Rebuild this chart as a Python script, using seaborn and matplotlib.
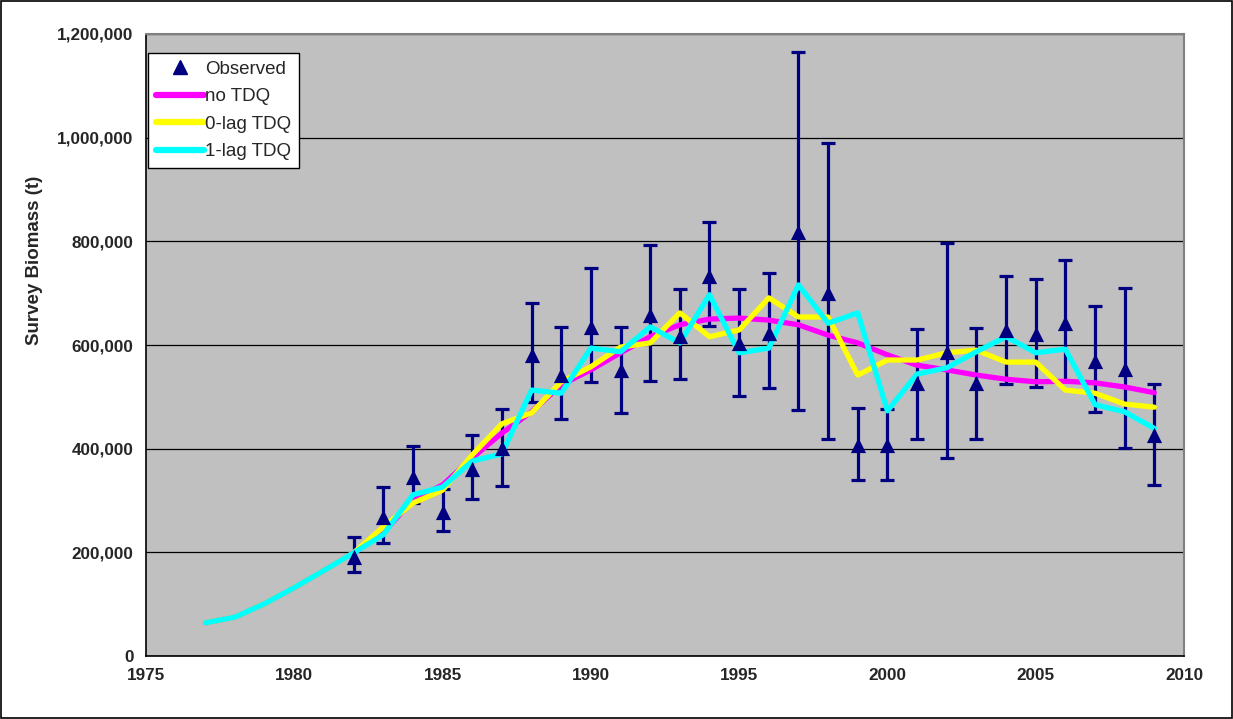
import numpy as np
import pandas as pd
import matplotlib
matplotlib.use("Agg")
import matplotlib.pyplot as plt
from matplotlib.lines import Line2D
from matplotlib.patches import Rectangle
from matplotlib.ticker import FuncFormatter, MultipleLocator
import seaborn as sns

# ---- data -----------------------------------------------------------------
model_years = list(range(1977, 2010))

no_tdq = [64, 75, 101, 132, 165, 199, 238, 301, 330, 382, 430, 471, 523, 552,
          585, 616, 639, 650, 652, 648, 639, 619, 604, 581, 561, 552, 542,
          534, 529, 530, 527, 519, 508]
lag0_tdq = [64, 75, 101, 132, 165, 199, 249, 295, 320, 388, 448, 469, 529, 558,
            596, 604, 662, 616, 629, 691, 654, 654, 542, 571, 571, 585, 590,
            567, 567, 513, 507, 486, 480]
lag1_tdq = [64, 75, 101, 132, 165, 199, 234, 311, 326, 376, 390, 513, 507, 594,
            587, 635, 604, 697, 585, 594, 716, 642, 662, 473, 544, 556, 587,
            616, 585, 592, 485, 471, 439]

obs_years = list(range(1982, 2010))
obs_mid = [191, 268, 345, 277, 360, 401, 581, 542, 635, 552, 658, 617, 734,
           604, 624, 818, 700, 407, 407, 526, 587, 526, 629, 621, 643, 569,
           554, 426]
obs_low = [162, 218, 295, 241, 303, 328, 490, 457, 529, 469, 531, 534, 636,
           502, 517, 475, 419, 340, 340, 419, 382, 419, 525, 519, 530, 470,
           401, 329]
obs_high = [230, 326, 405, 322, 427, 476, 681, 635, 748, 635, 793, 708, 837,
            709, 738, 1165, 990, 478, 476, 631, 797, 633, 733, 727, 764, 675,
            710, 525]

series_names = ["no TDQ", "0-lag TDQ", "1-lag TDQ"]
series_colors = ["#FF00FF", "#FFFF00", "#00FFFF"]
obs_label = "Observed"
navy = "#000080"

# values above are in thousands of tonnes
k = 1000.0
models = pd.DataFrame({
    "year": model_years * 3,
    "biomass": np.concatenate([no_tdq, lag0_tdq, lag1_tdq]) * k,
    "run": np.repeat(series_names, len(model_years)),
})
obs = pd.DataFrame({
    "year": obs_years,
    "biomass": np.array(obs_mid) * k,
    "low": np.array(obs_low) * k,
    "high": np.array(obs_high) * k,
})

# ---- style ----------------------------------------------------------------
sns.set_theme(style="white")
plt.rcParams["font.family"] = ["Liberation Sans", "DejaVu Sans"]

fig = plt.figure(figsize=(12.33, 7.19), dpi=100)
ax = fig.add_axes([146 / 1233, 1 - 656 / 719, 1038 / 1233, 622 / 719])
ax.set_facecolor("#C0C0C0")

# error bars sit beneath the model lines
ax.errorbar(obs["year"], obs["biomass"],
            yerr=[obs["biomass"] - obs["low"], obs["high"] - obs["biomass"]],
            fmt="none", ecolor=navy, elinewidth=2.3, capsize=5, capthick=2.3,
            zorder=2)

sns.lineplot(data=models, x="year", y="biomass", hue="run",
             hue_order=series_names, palette=series_colors, linewidth=3.8,
             ax=ax, legend=False, zorder=3, estimator=None, sort=False)

sns.scatterplot(data=obs, x="year", y="biomass", marker="^", s=120,
                color=navy, edgecolor=navy, linewidth=0, ax=ax, zorder=4,
                legend=False)

# ---- axes -----------------------------------------------------------------
ax.set_xlim(1975, 2010)
ax.set_ylim(0, 1200000)
ax.xaxis.set_major_locator(MultipleLocator(5))
ax.yaxis.set_major_locator(MultipleLocator(200000))
ax.yaxis.set_major_formatter(FuncFormatter(lambda v, p: f"{v:,.0f}"))
ax.grid(axis="y", color="black", linewidth=0.9)
ax.grid(axis="x", visible=False)
ax.set_axisbelow(True)

ax.tick_params(axis="both", direction="out", length=5, width=1,
               color="black", labelsize=12.3, pad=4)
for lab in ax.get_xticklabels() + ax.get_yticklabels():
    lab.set_fontweight("bold")

ax.set_xlabel("")
ax.set_ylabel("Survey Biomass (t)", fontsize=13.5, fontweight="bold")
ax.yaxis.set_label_coords((43 - 146) / 1038, (656 - 260) / 622)

for side in ("left", "bottom"):
    ax.spines[side].set_color("black")
    ax.spines[side].set_linewidth(1.2)
for side in ("top", "right"):
    ax.spines[side].set_color("#808080")
    ax.spines[side].set_linewidth(1.5)

# ---- legend ---------------------------------------------------------------
handles = [Line2D([], [], linestyle="none", marker="^", markersize=10,
                  color=navy, markeredgecolor=navy)]
handles += [Line2D([], [], color=c, linewidth=4.5, solid_capstyle="round")
            for c in series_colors]
leg = ax.legend(handles, [obs_label] + series_names,
                loc="upper left", bbox_to_anchor=(148 / 1233, 1 - 53 / 719),
                bbox_transform=fig.transFigure, borderaxespad=0,
                frameon=True, fancybox=False, framealpha=1,
                edgecolor="black", facecolor="white", fontsize=13.5,
                handlelength=2.6, handletextpad=0.05, labelspacing=0.56,
                borderpad=0.4)
leg.get_frame().set_linewidth(1.0)

# outer chart border
fig.patches.append(Rectangle((0.001, 0.0015), 0.998, 0.997,
                             transform=fig.transFigure, fill=False,
                             edgecolor="black", linewidth=1.2))

fig.savefig("out.png", dpi=100)
